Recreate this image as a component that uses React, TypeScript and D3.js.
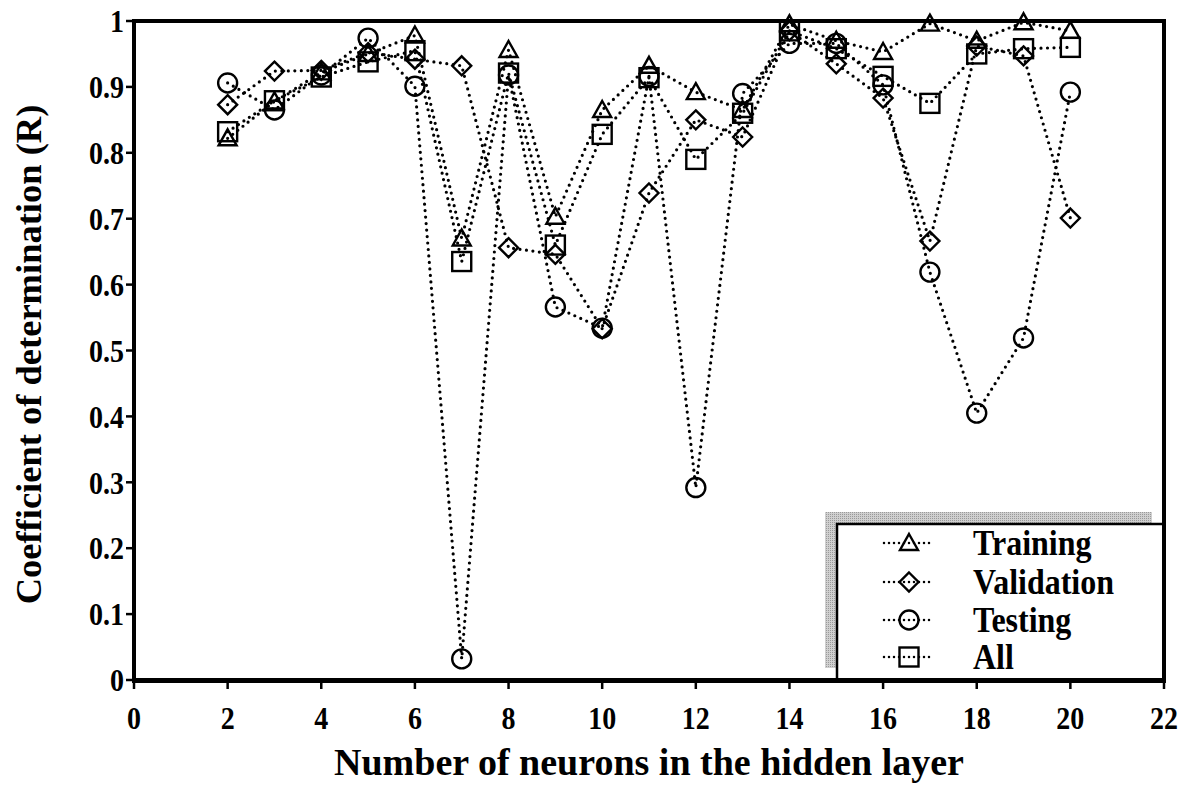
import React from "react";
import * as d3 from "d3";

const neurons = [2, 3, 4, 5, 6, 7, 8, 9, 10, 11, 12, 13, 14, 15, 16, 17, 18, 19, 20];
const training = [0.822, 0.878, 0.922, 0.95, 0.978, 0.67, 0.956, 0.703, 0.865, 0.932, 0.892, 0.865, 0.995, 0.97, 0.953, 0.996, 0.97, 0.998, 0.985];
const validation = [0.873, 0.924, 0.925, 0.952, 0.942, 0.932, 0.656, 0.646, 0.533, 0.739, 0.85, 0.824, 0.985, 0.935, 0.883, 0.666, 0.962, 0.947, 0.701];
const testing = [0.906, 0.865, 0.918, 0.974, 0.901, 0.032, 0.918, 0.566, 0.534, 0.916, 0.292, 0.89, 0.966, 0.966, 0.903, 0.619, 0.405, 0.519, 0.892];
const allData = [0.832, 0.879, 0.915, 0.938, 0.955, 0.635, 0.921, 0.66, 0.828, 0.914, 0.79, 0.86, 0.985, 0.958, 0.916, 0.875, 0.95, 0.958, 0.96];

const seriesNames = ["Training", "Validation", "Testing", "All"];
const seriesShapes = ["triangle", "diamond", "circle", "square"];
const seriesValues = [training, validation, testing, allData];

const xTicks = d3.range(0, 23, 2);
const yTicks = d3.range(0, 11).map((i) => i / 10);

const W = 1187;
const H = 787;
const M = { left: 134, right: 1164, top: 21, bottom: 680 };
const FONT = "'Liberation Serif', 'Times New Roman', serif";

function Marker({ shape, cx, cy }: { shape: string; cx: number; cy: number }) {
  const sw = 2.4;
  if (shape === "triangle") {
    const s = 9;
    const p = `${cx},${cy - 9} ${cx + s},${cy + 7} ${cx - s},${cy + 7}`;
    return <polygon points={p} fill="none" stroke="#000" strokeWidth={sw} strokeLinejoin="miter" />;
  }
  if (shape === "diamond") {
    const s = 9.5;
    const p = `${cx},${cy - s} ${cx + s},${cy} ${cx},${cy + s} ${cx - s},${cy}`;
    return <polygon points={p} fill="none" stroke="#000" strokeWidth={sw} />;
  }
  if (shape === "circle") {
    return <circle cx={cx} cy={cy} r={9.5} fill="none" stroke="#000" strokeWidth={sw} />;
  }
  return <rect x={cx - 9.5} y={cy - 9.5} width={19} height={19} fill="none" stroke="#000" strokeWidth={sw} />;
}

export default function App() {
  const x = d3.scaleLinear().domain([0, 22]).range([M.left, M.right]);
  const y = d3.scaleLinear().domain([0, 1]).range([M.bottom, M.top]);
  const line = d3
    .line<number>()
    .x((_, i) => x(neurons[i]))
    .y((d) => y(d));

  const legX = 837;
  const legY = 524;
  const legRows = [543, 582, 620, 657];

  return (
    <svg
      width={W}
      height={H}
      style={{ position: "absolute", left: 0, top: 0, background: "#fff" }}
      fontFamily={FONT}
    >
      <defs>
        <pattern id="shadowPat" width="2" height="2" patternUnits="userSpaceOnUse">
          <rect width="2" height="2" fill="#d0d0d0" />
          <rect width="1" height="1" fill="#9a9a9a" />
        </pattern>
      </defs>
      <rect x={0} y={0} width={W} height={H} fill="#fff" />
      {/* series */}
      {seriesValues.map((vals, si) => (
        <g key={seriesNames[si]}>
          <path
            d={line(vals) || ""}
            fill="none"
            stroke="#000"
            strokeWidth={3.2}
            strokeLinecap="round"
            strokeDasharray="0 6.5"
          />
          {vals.map((v, i) => (
            <Marker key={i} shape={seriesShapes[si]} cx={x(neurons[i])} cy={y(v)} />
          ))}
        </g>
      ))}

      {/* legend */}
      <rect x={legX - 12} y={legY - 12} width={M.right - legX} height={M.bottom - legY} fill="url(#shadowPat)" />
      <rect x={legX} y={legY} width={M.right - legX} height={M.bottom - legY} fill="#fff" stroke="#000" strokeWidth={2.5} />
      {seriesNames.map((name, i) => (
        <g key={name}>
          <line
            x1={884}
            x2={934}
            y1={legRows[i]}
            y2={legRows[i]}
            stroke="#000"
            strokeWidth={2.5}
            strokeLinecap="round"
            strokeDasharray="0 5"
          />
          <Marker shape={seriesShapes[i]} cx={909} cy={legRows[i]} />
          <text
            transform={`translate(973, ${legRows[i]}) scale(1, 1.1)`}
            dy="0.35em"
            fontSize={32}
            fontWeight="bold"
          >
            {name}
          </text>
        </g>
      ))}

      {/* frame */}
      <rect
        x={M.left}
        y={M.top}
        width={M.right - M.left}
        height={M.bottom - M.top}
        fill="none"
        stroke="#000"
        strokeWidth={4}
      />
      <line x1={M.left - 2} x2={M.right + 2} y1={M.bottom + 0.5} y2={M.bottom + 0.5} stroke="#000" strokeWidth={5} />

      {/* x ticks */}
      {xTicks.map((t) => (
        <g key={"x" + t}>
          <line x1={x(t)} x2={x(t)} y1={M.bottom} y2={M.bottom + 9} stroke="#000" strokeWidth={2.5} />
          <text
            transform={`translate(${x(t)}, 718) scale(1, 1.15)`}
            dy="0.35em"
            textAnchor="middle"
            fontSize={28}
            fontWeight="bold"
          >
            {t}
          </text>
        </g>
      ))}
      {/* y ticks */}
      {yTicks.map((t) => (
        <g key={"y" + t}>
          <line x1={M.left - 8} x2={M.left} y1={y(t)} y2={y(t)} stroke="#000" strokeWidth={2.5} />
          <text
            transform={`translate(124, ${y(t)}) scale(1, 1.15)`}
            dy="0.35em"
            textAnchor="end"
            fontSize={28}
            fontWeight="bold"
          >
            {d3.format("")(+t.toFixed(1))}
          </text>
        </g>
      ))}

      <text x={(M.left + M.right) / 2} y={775} textAnchor="middle" fontSize={38} fontWeight="bold">
        Number of neurons in the hidden layer
      </text>
      <text
        transform={`translate(41, ${(M.top + M.bottom) / 2 + 4}) rotate(-90)`}
        textAnchor="middle"
        fontSize={36.5}
        fontWeight="bold"
      >
        Coefficient of determination (R)
      </text>
    </svg>
  );
}
